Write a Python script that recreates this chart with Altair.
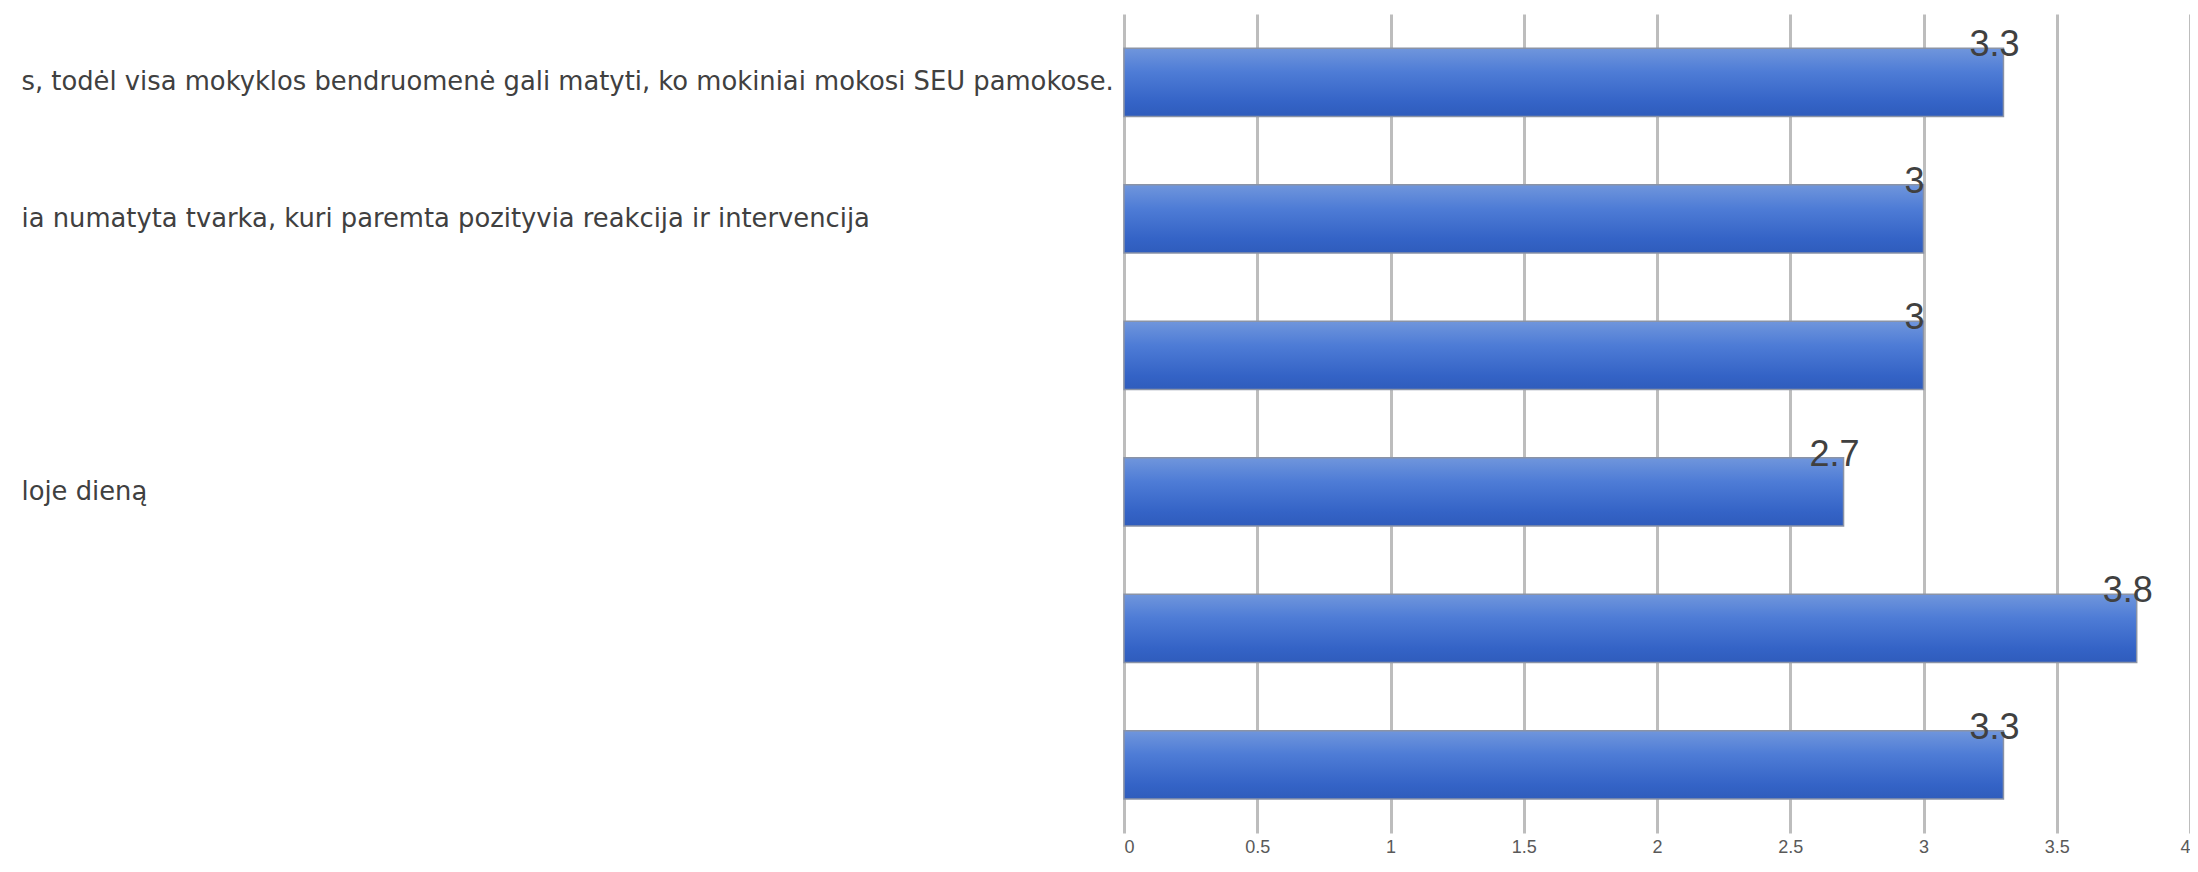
import json
import altair as alt
import pandas as pd

# visible (clipped) parts of the category labels, top to bottom
labels = [
    "s, todėl visa mokyklos bendruomenė gali matyti, ko mokiniai mokosi SEU pamokose.",
    "ia numatyta tvarka, kuri paremta pozityvia reakcija ir intervencija",
    "",
    "loje dieną",
    "",
    "",
]
values = [3.3, 3.0, 3.0, 2.7, 3.8, 3.3]
x_ticks = [0, 0.5, 1, 1.5, 2, 2.5, 3, 3.5, 4]

df = pd.DataFrame({"idx": list(range(len(values))), "value": values})

label_expr = json.dumps(labels, ensure_ascii=False) + "[datum.value]"

gradient = alt.Gradient(
    gradient="linear",
    stops=[
        alt.GradientStop(color="#7096dc", offset=0),
        alt.GradientStop(color="#4e7cd6", offset=0.35),
        alt.GradientStop(color="#3463c6", offset=0.8),
        alt.GradientStop(color="#2f5cbc", offset=1),
    ],
    x1=0, x2=0, y1=0, y2=1,
)

y_enc = alt.Y(
    "idx:O",
    sort="ascending",
    scale=alt.Scale(paddingInner=0.5, paddingOuter=0.25),
    axis=alt.Axis(
        title=None,
        labelExpr=label_expr,
        labelAlign="left",
        labelBaseline="middle",
        labelPadding=1103,
        ticks=False,
        tickSize=0,
        domain=False,
        grid=False,
        labelFont="DejaVu Sans",
        labelFontSize=25.8,
        labelColor="#404040",
        labelLimit=1200,
    ),
)

x_enc = alt.X(
    "value:Q",
    scale=alt.Scale(domain=[0, 4], nice=False),
    axis=alt.Axis(
        title=None,
        values=x_ticks,
        format="~g",
        grid=True,
        gridColor="#bdbdbd",
        gridWidth=3,
        ticks=False,
        domain=False,
        labelFont="Liberation Sans",
        labelFontSize=18,
        labelColor="#595959",
        labelPadding=5,
    ),
)

base = alt.Chart(df).encode(y=y_enc)

bars = base.mark_bar(color=gradient, stroke="#8a93a6", strokeWidth=1.5).encode(x=x_enc)

texts = base.mark_text(
    align="center",
    baseline="middle",
    dx=-9,
    dy=-37,
    font="Liberation Sans",
    fontSize=36,
    color="#404040",
).encode(x=alt.X("value:Q"), text=alt.Text("value:Q", format="~g"))

chart = (
    alt.layer(bars, texts)
    .properties(
        width=1066,
        height=819,
        autosize=alt.AutoSizeParams(type="none"),
        padding={"left": 1116, "top": 6, "right": 0, "bottom": 25},
        background="white",
    )
    .configure_view(stroke=None)
)

chart.save("out.html", embed_options={"renderer": "svg", "actions": False})
